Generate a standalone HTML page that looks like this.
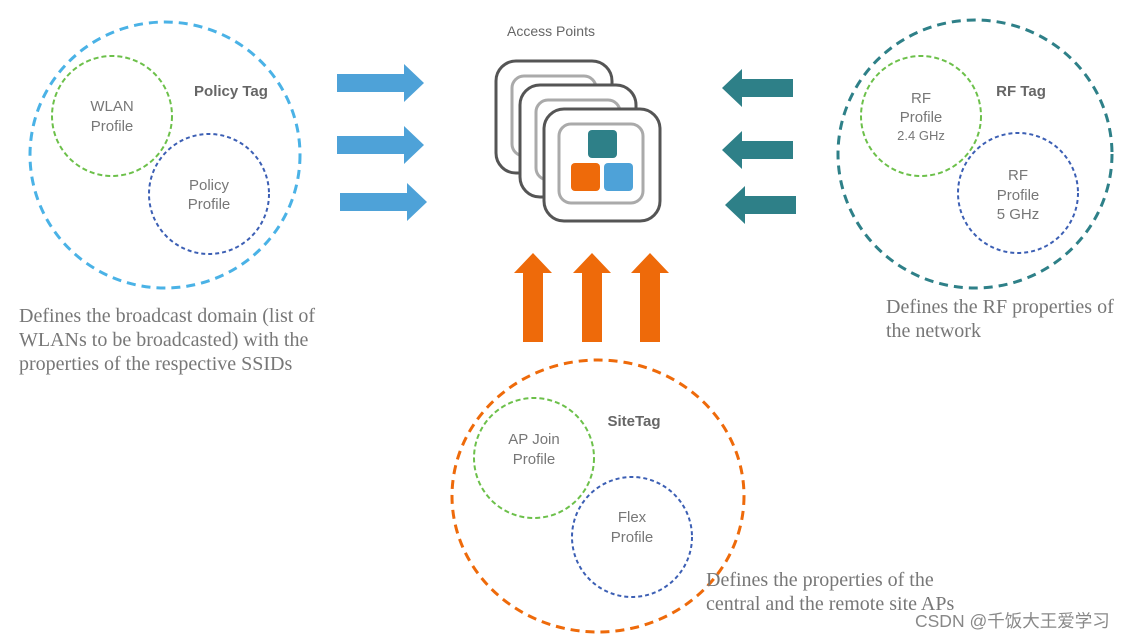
<!DOCTYPE html>
<html><head><meta charset="utf-8"><style>
html,body{margin:0;padding:0;background:#fff;}
svg{display:block;}
</style></head><body>
<svg width="1138" height="639" viewBox="0 0 1138 639" xmlns="http://www.w3.org/2000/svg">
<g fill="none">
<ellipse cx="165" cy="155" rx="135" ry="133" stroke="#4ab2e6" stroke-width="3" stroke-dasharray="9 6"/>
<circle cx="112" cy="116" r="60" stroke="#6cc04a" stroke-width="2" stroke-dasharray="5 3"/>
<circle cx="209" cy="194" r="60" stroke="#3c5fb4" stroke-width="2" stroke-dasharray="4 3"/>
<ellipse cx="975" cy="154" rx="137" ry="134" stroke="#2e8088" stroke-width="3" stroke-dasharray="9 6"/>
<circle cx="921" cy="116" r="60" stroke="#6cc04a" stroke-width="2" stroke-dasharray="5 3"/>
<circle cx="1018" cy="193" r="60" stroke="#3c5fb4" stroke-width="2" stroke-dasharray="4 3"/>
<ellipse cx="598" cy="496" rx="146" ry="136" stroke="#ee6a0a" stroke-width="3" stroke-dasharray="9 6"/>
<circle cx="534" cy="458" r="60" stroke="#6cc04a" stroke-width="2" stroke-dasharray="5 3"/>
<circle cx="632" cy="537" r="60" stroke="#3c5fb4" stroke-width="2" stroke-dasharray="4 3"/>
</g>
<g fill="#4ea2d8">
<polygon points="337,74 404,74 404,64 424,83 404,102 404,92 337,92"/>
<polygon points="337,136 404,136 404,126 424,145 404,164 404,154 337,154"/>
<polygon points="340,193 407,193 407,183 427,202 407,221 407,211 340,211"/>
</g>
<g fill="#2e8088">
<polygon points="793,79 742,79 742,69 722,88 742,107 742,97 793,97"/>
<polygon points="793,141 742,141 742,131 722,150 742,169 742,159 793,159"/>
<polygon points="796,196 745,196 745,186 725,205 745,224 745,214 796,214"/>
</g>
<g fill="#ee6a0a">
<polygon points="523,342 523,273 514,273 533,253 552,273 543,273 543,342"/>
<polygon points="582,342 582,273 573,273 592,253 611,273 602,273 602,342"/>
<polygon points="640,342 640,273 631,273 650,253 669,273 660,273 660,342"/>
</g>
<g stroke-width="3">
<rect x="496" y="61" width="116" height="112" rx="20" fill="#fff" stroke="#555"/>
<rect x="512" y="76" width="84" height="80" rx="12" fill="#fff" stroke="#aaa"/>
<rect x="520" y="85" width="116" height="112" rx="20" fill="#fff" stroke="#555"/>
<rect x="536" y="100" width="84" height="80" rx="12" fill="#fff" stroke="#aaa"/>
<rect x="544" y="109" width="116" height="112" rx="20" fill="#fff" stroke="#555"/>
<rect x="559" y="124" width="84" height="79" rx="12" fill="#fff" stroke="#aaa"/>
</g>
<rect x="588" y="130" width="29" height="28" rx="4" fill="#2e8088"/>
<rect x="571" y="163" width="29" height="28" rx="4" fill="#ee6a0a"/>
<rect x="604" y="163" width="29" height="28" rx="4" fill="#4ea2d8"/>
<g font-family="Liberation Sans, sans-serif" fill="#777" font-size="15" text-anchor="middle">
<text x="551" y="36" fill="#666" font-size="14">Access Points</text>
<text x="231" y="96" font-weight="bold" fill="#666">Policy Tag</text>
<text x="112" y="111">WLAN</text><text x="112" y="131">Profile</text>
<text x="209" y="190">Policy</text><text x="209" y="209">Profile</text>
<text x="1021" y="96" font-weight="bold" fill="#666">RF Tag</text>
<text x="921" y="103">RF</text><text x="921" y="122">Profile</text><text x="921" y="140" font-size="13">2.4 GHz</text>
<text x="1018" y="180">RF</text><text x="1018" y="200">Profile</text><text x="1018" y="219">5 GHz</text>
<text x="634" y="426" font-weight="bold" fill="#666">SiteTag</text>
<text x="534" y="444">AP Join</text><text x="534" y="464">Profile</text>
<text x="632" y="522">Flex</text><text x="632" y="542">Profile</text>
</g>
<g font-family="Liberation Serif, serif" fill="#777" font-size="20">
<text x="19" y="322">Defines the broadcast domain (list of</text>
<text x="19" y="346">WLANs to be broadcasted) with the</text>
<text x="19" y="370">properties of the respective SSIDs</text>
<text x="886" y="313">Defines the RF properties of</text>
<text x="886" y="337">the network</text>
<text x="706" y="586">Defines the properties of the</text>
<text x="706" y="610">central and the remote site APs</text>
</g>
<text x="915" y="627" font-family="Liberation Sans, 'Noto Sans CJK SC', sans-serif" font-size="17.5" fill="#888">CSDN @千饭大王爱学习</text>
</svg>
</body></html>
